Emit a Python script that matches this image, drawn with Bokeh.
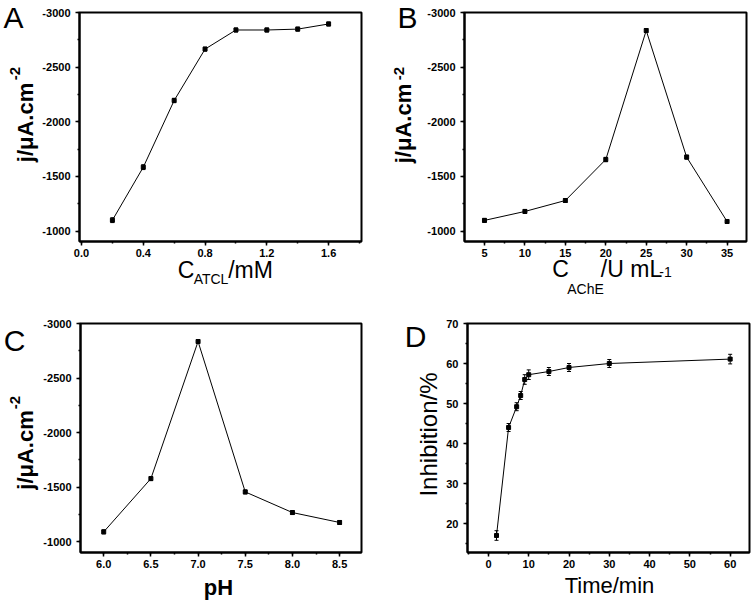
from bokeh.plotting import figure
from bokeh.models import (Range1d, SingleIntervalTicker, NumeralTickFormatter, FixedTicker,
                          LinearAxis, ColumnDataSource, Whisker, TeeHead)
from bokeh.layouts import column, row
from bokeh.embed import file_html
from bokeh.resources import INLINE

# ---------------- data ----------------
atcl_mM = [0.2, 0.4, 0.6, 0.8, 1.0, 1.2, 1.4, 1.6]
j_atcl = [-1100, -1585, -2195, -2665, -2840, -2840, -2848, -2895]
j_atcl_err = [22, 22, 20, 18, 18, 18, 18, 18]

ache_U = [5, 10, 15, 20, 25, 30, 35]
j_ache = [-1098, -1180, -1280, -1655, -2835, -1677, -1088]
j_ache_err = [18, 18, 18, 20, 18, 18, 18]

ph = [6.0, 6.5, 7.0, 7.5, 8.0, 8.5]
j_ph = [-1091, -1579, -2835, -1457, -1268, -1177]
j_ph_err = [18, 18, 18, 18, 18, 18]

time_min = [2, 5, 7, 8, 9, 10, 15, 20, 30, 60]
inhibition = [17, 44, 49.2, 52, 56, 57.2, 58, 59, 60, 61.1]
inhibition_err = [1.2, 1.0, 1.0, 1.0, 1.2, 1.2, 1.0, 1.0, 1.0, 1.2]

FONT = "Liberation Sans"


def make_panel(xr, yr, left, top, fw, fh, bl, br, bt, bb, xint, yint, xfmt, yfmt):
    p = figure(width=bl + fw + br, height=bt + fh + bb,
               x_range=Range1d(*xr), y_range=Range1d(*yr),
               output_backend="svg", toolbar_location=None,
               min_border_left=bl, min_border_right=br,
               min_border_top=bt, min_border_bottom=bb,
               background_fill_color="white", border_fill_color="white")
    p.grid.visible = False
    p.outline_line_color = "black"
    p.outline_line_width = 2
    p.outline_line_alpha = 1
    p.xaxis.ticker = SingleIntervalTicker(interval=xint, num_minor_ticks=2)
    p.yaxis.ticker = SingleIntervalTicker(interval=yint, num_minor_ticks=2)
    p.xaxis.formatter = NumeralTickFormatter(format=xfmt)
    p.yaxis.formatter = NumeralTickFormatter(format=yfmt)
    for ax in (p.xaxis[0], p.yaxis[0]):
        ax.axis_line_width = 2
        ax.axis_line_color = "black"
        ax.major_tick_out = 4
        ax.major_tick_in = 0
        ax.minor_tick_out = 2
        ax.minor_tick_in = 0
        ax.major_tick_line_width = 1.5
        ax.minor_tick_line_width = 1.5
        ax.major_tick_line_color = "black"
        ax.minor_tick_line_color = "black"
        ax.major_label_text_font = FONT
        ax.major_label_text_font_style = "bold"
        ax.major_label_text_font_size = "11px"
        ax.major_label_text_color = "black"
    p.xaxis.major_label_standoff = 3
    p.yaxis.major_label_standoff = 5
    p._g = (left, top, fw, fh, xr, yr)
    return p


def px2x(p, px):
    left, top, fw, fh, xr, yr = p._g
    return round(xr[0] + (px - left) / fw * (xr[1] - xr[0]), 6)


def py2y(p, py):
    left, top, fw, fh, xr, yr = p._g
    return round(yr[1] + (py - top) / fh * (yr[0] - yr[1]), 6)


def text_axis(p, side, items, size, bold=False, standoff=0, vertical=False):
    """An extra axis with no line/ticks whose tick labels carry label text."""
    ticks = [v for v, _ in items]
    ax = LinearAxis(ticker=FixedTicker(ticks=ticks, minor_ticks=[]),
                    major_label_overrides={v: s for v, s in items},
                    axis_line_color=None, major_tick_line_color=None,
                    minor_tick_line_color=None,
                    major_tick_out=0, major_tick_in=0, minor_tick_out=0, minor_tick_in=0,
                    major_label_standoff=standoff,
                    major_label_text_font=FONT, major_label_text_font_size=f"{size}px",
                    major_label_text_font_style="bold" if bold else "normal",
                    major_label_text_color="black")
    if vertical:
        ax.major_label_orientation = "vertical"
    p.add_layout(ax, side)


def add_series(p, xs, ys, errs):
    p.line(xs, ys, line_color="black", line_width=1)
    src = ColumnDataSource(dict(x=xs, lo=[y - e for y, e in zip(ys, errs)],
                                hi=[y + e for y, e in zip(ys, errs)]))
    p.add_layout(Whisker(base="x", upper="hi", lower="lo", source=src, line_color="black",
                         line_width=1,
                         upper_head=TeeHead(size=4, line_color="black", line_width=1),
                         lower_head=TeeHead(size=4, line_color="black", line_width=1)))
    p.scatter(xs, ys, marker="square", size=4, color="black")


# ---------------- panel A ----------------
pA = make_panel((-0.013, 1.813), (-905, -3000), 79, 12, 282, 229, 79, 9, 12, 58,
                0.4, 500, "0.0", "0")
add_series(pA, atcl_mM, j_atcl, j_atcl_err)
text_axis(pA, "below", [(px2x(pA, 185.5), "C"), (px2x(pA, 250), "/mM")], 23, standoff=-3)
text_axis(pA, "below", [(px2x(pA, 210.5), "ATCL")], 14, standoff=-15)
text_axis(pA, "left", [(py2y(pA, 122), "j/μA.cm")], 22, bold=True, standoff=2, vertical=True)
text_axis(pA, "left", [(py2y(pA, 73), "-2")], 15, bold=True, standoff=-10, vertical=True)
text_axis(pA, "left", [(py2y(pA, 16), "A")], 30, standoff=-17)

# ---------------- panel B ----------------
pB = make_panel((2.53, 37.4), (-905, -3000), 464, 12, 282, 229, 94, 8, 12, 58,
                5, 500, "0", "0")
add_series(pB, ache_U, j_ache, j_ache_err)
text_axis(pB, "below", [(px2x(pB, 665), "-1")], 14, standoff=7)
text_axis(pB, "below", [(px2x(pB, 560), "C"), (px2x(pB, 631), "/U mL")], 23, standoff=-24)
text_axis(pB, "below", [(px2x(pB, 585), "AChE")], 14, standoff=-4)
text_axis(pB, "left", [(py2y(pB, 16), "B")], 30, standoff=7)
text_axis(pB, "left", [(py2y(pB, 123), "j/μA.cm")], 22, bold=True, standoff=-21, vertical=True)
text_axis(pB, "left", [(py2y(pB, 73), "-2")], 15, bold=True, standoff=-16, vertical=True)

# ---------------- panel C ----------------
pC = make_panel((5.754, 8.732), (-902, -3000), 80, 323, 281, 229, 80, 9, 24, 50,
                0.5, 500, "0.0", "0")
add_series(pC, ph, j_ph, j_ph_err)
text_axis(pC, "below", [(px2x(pC, 218), "pH")], 22, bold=True, standoff=4)
text_axis(pC, "left", [(py2y(pC, 449.5), "j/μA.cm")], 22, bold=True, standoff=3, vertical=True)
text_axis(pC, "left", [(py2y(pC, 402), "-2")], 15, bold=True, standoff=-10, vertical=True)
text_axis(pC, "left", [(py2y(pC, 339.5), "C")], 30, standoff=-19)

# ---------------- panel D ----------------
pD = make_panel((-5.2, 64.8), (12.75, 70), 467, 323, 282, 229, 97, 5, 24, 50,
                10, 10, "0", "0")
add_series(pD, time_min, inhibition, inhibition_err)
text_axis(pD, "below", [(px2x(pD, 609), "Time/min")], 22, standoff=2)
text_axis(pD, "left", [(py2y(pD, 434), "Inhibition/%")], 24, standoff=2, vertical=True)
text_axis(pD, "left", [(py2y(pD, 336), "D")], 30, standoff=-15)

layout = column(row(pA, pB), row(pC, pD))
open("out.html", "w").write(file_html(layout, INLINE))
